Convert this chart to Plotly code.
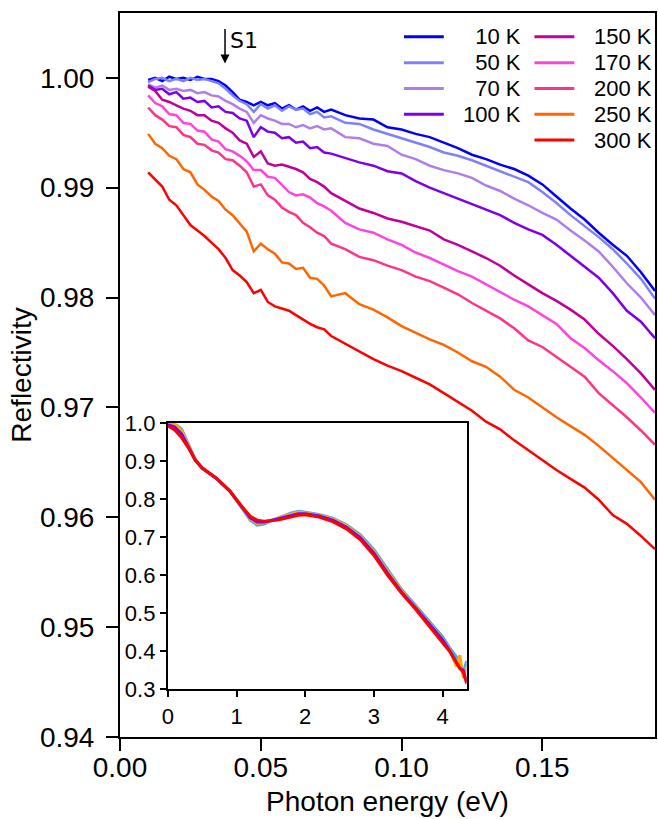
import plotly.graph_objects as go

# ---------------- data ----------------
energy = [0.0100, 0.0125, 0.0150, 0.0175, 0.0200, 0.0225, 0.0250, 0.0275, 0.0300, 0.0325,
          0.0350, 0.0375, 0.0400, 0.0425, 0.0450, 0.0475, 0.0500, 0.0525, 0.0550, 0.0575,
          0.0600, 0.0625, 0.0650, 0.0675, 0.0700, 0.0725, 0.0750,
          0.080, 0.085, 0.090, 0.095, 0.100, 0.105, 0.110, 0.115, 0.120, 0.125, 0.130,
          0.135, 0.140, 0.145, 0.150, 0.155, 0.160, 0.165, 0.170, 0.175, 0.180, 0.185, 0.190]

R_10K = [0.9998, 1.0000, 0.9997, 1.0001, 0.9999, 1.0000, 0.9998, 1.0001, 0.9999, 0.9999,
         0.9997, 0.9993, 0.9987, 0.9980, 0.9978, 0.9975, 0.9978, 0.9975, 0.9977, 0.9972,
         0.9975, 0.9971, 0.9974, 0.9970, 0.9973, 0.9969, 0.9971,
         0.9966, 0.9963, 0.9962, 0.9955, 0.9953, 0.9949, 0.9946, 0.9941, 0.9936, 0.9930, 0.9926,
         0.9921, 0.9917, 0.9911, 0.9903, 0.9892, 0.9881, 0.9871, 0.9859, 0.9848, 0.9838, 0.9823, 0.9806]
R_50K = [0.9996, 0.9999, 1.0000, 0.9997, 0.9999, 0.9997, 1.0000, 0.9998, 0.9999, 0.9997,
         0.9995, 0.9990, 0.9984, 0.9979, 0.9976, 0.9969, 0.9976, 0.9972, 0.9975, 0.9970,
         0.9974, 0.9971, 0.9972, 0.9967, 0.9969, 0.9964, 0.9965,
         0.9959, 0.9958, 0.9953, 0.9949, 0.9945, 0.9941, 0.9937, 0.9932, 0.9929, 0.9925, 0.9920,
         0.9915, 0.9910, 0.9905, 0.9896, 0.9886, 0.9875, 0.9865, 0.9855, 0.9844, 0.9831, 0.9817, 0.9799]
R_70K = [0.9994, 0.9991, 0.9993, 0.9989, 0.9990, 0.9988, 0.9989, 0.9986, 0.9987, 0.9984,
         0.9983, 0.9979, 0.9976, 0.9972, 0.9969, 0.9959, 0.9966, 0.9963, 0.9961, 0.9958,
         0.9958, 0.9955, 0.9957, 0.9954, 0.9956, 0.9953, 0.9954,
         0.9946, 0.9945, 0.9940, 0.9938, 0.9930, 0.9926, 0.9920, 0.9916, 0.9913, 0.9909, 0.9902,
         0.9897, 0.9890, 0.9884, 0.9877, 0.9871, 0.9861, 0.9852, 0.9842, 0.9828, 0.9813, 0.9800, 0.9784]
R_100K = [0.9993, 0.9989, 0.9990, 0.9985, 0.9987, 0.9981, 0.9982, 0.9978, 0.9979, 0.9973,
          0.9974, 0.9969, 0.9968, 0.9963, 0.9961, 0.9946, 0.9955, 0.9951, 0.9950, 0.9945,
          0.9946, 0.9941, 0.9942, 0.9936, 0.9937, 0.9932, 0.9931,
          0.9927, 0.9923, 0.9920, 0.9915, 0.9913, 0.9906, 0.9900, 0.9895, 0.9890, 0.9885, 0.9880,
          0.9875, 0.9868, 0.9862, 0.9857, 0.9848, 0.9838, 0.9828, 0.9818, 0.9804, 0.9788, 0.9778, 0.9763]
R_150K = [0.9992, 0.9988, 0.9980, 0.9978, 0.9975, 0.9972, 0.9970, 0.9966, 0.9966, 0.9961,
          0.9959, 0.9954, 0.9950, 0.9943, 0.9940, 0.9928, 0.9933, 0.9922, 0.9920, 0.9921,
          0.9919, 0.9917, 0.9914, 0.9908, 0.9905, 0.9901, 0.9895,
          0.9888, 0.9881, 0.9877, 0.9872, 0.9869, 0.9865, 0.9861, 0.9853, 0.9848, 0.9842, 0.9836,
          0.9829, 0.9820, 0.9812, 0.9804, 0.9797, 0.9789, 0.9780, 0.9767, 0.9756, 0.9744, 0.9731, 0.9716]
R_170K = [0.9984, 0.9977, 0.9974, 0.9967, 0.9966, 0.9959, 0.9958, 0.9952, 0.9951, 0.9944,
          0.9942, 0.9935, 0.9933, 0.9929, 0.9924, 0.9916, 0.9916, 0.9910, 0.9909, 0.9902,
          0.9896, 0.9893, 0.9894, 0.9891, 0.9886, 0.9883, 0.9879,
          0.9868, 0.9862, 0.9859, 0.9853, 0.9848, 0.9841, 0.9836, 0.9830, 0.9824, 0.9819, 0.9812,
          0.9805, 0.9798, 0.9792, 0.9784, 0.9776, 0.9763, 0.9754, 0.9743, 0.9733, 0.9722, 0.9709, 0.9695]
R_200K = [0.9973, 0.9966, 0.9962, 0.9956, 0.9955, 0.9948, 0.9946, 0.9940, 0.9939, 0.9934,
          0.9932, 0.9926, 0.9925, 0.9920, 0.9914, 0.9901, 0.9903, 0.9893, 0.9889, 0.9882,
          0.9878, 0.9875, 0.9868, 0.9864, 0.9859, 0.9856, 0.9849,
          0.9844, 0.9837, 0.9834, 0.9829, 0.9825, 0.9819, 0.9815, 0.9809, 0.9803, 0.9795, 0.9788,
          0.9781, 0.9772, 0.9761, 0.9755, 0.9746, 0.9737, 0.9728, 0.9713, 0.9702, 0.9691, 0.9679, 0.9666]
R_250K = [0.9949, 0.9940, 0.9936, 0.9929, 0.9926, 0.9917, 0.9914, 0.9903, 0.9898, 0.9892,
          0.9888, 0.9880, 0.9875, 0.9867, 0.9860, 0.9842, 0.9849, 0.9844, 0.9840, 0.9832,
          0.9831, 0.9826, 0.9827, 0.9818, 0.9817, 0.9811, 0.9801,
          0.9804, 0.9794, 0.9789, 0.9782, 0.9774, 0.9768, 0.9762, 0.9757, 0.9750, 0.9742, 0.9737,
          0.9728, 0.9716, 0.9709, 0.9700, 0.9691, 0.9683, 0.9675, 0.9665, 0.9654, 0.9643, 0.9632, 0.9616]
R_300K = [0.9914, 0.9907, 0.9901, 0.9889, 0.9884, 0.9875, 0.9866, 0.9861, 0.9856, 0.9850,
          0.9844, 0.9836, 0.9825, 0.9820, 0.9814, 0.9804, 0.9807, 0.9796, 0.9792, 0.9790,
          0.9788, 0.9784, 0.9780, 0.9776, 0.9773, 0.9771, 0.9765,
          0.9758, 0.9751, 0.9744, 0.9738, 0.9733, 0.9727, 0.9721, 0.9713, 0.9705, 0.9697, 0.9687,
          0.9680, 0.9670, 0.9661, 0.9652, 0.9643, 0.9635, 0.9627, 0.9616, 0.9602, 0.9594, 0.9583, 0.9571]

temps = ["10 K", "50 K", "70 K", "100 K", "150 K", "170 K", "200 K", "250 K", "300 K"]
series = [R_10K, R_50K, R_70K, R_100K, R_150K, R_170K, R_200K, R_250K, R_300K]
colors = ["#0000ff", "#8080ff", "#b07ee8", "#7f00e6", "#c00099", "#ff44dd", "#ff3388", "#ff6600", "#ff0000"]

# inset (wide range)
inset_E = [0.0, 0.1, 0.2, 0.3, 0.4, 0.5, 0.7, 0.9, 1.1, 1.2, 1.3, 1.4, 1.6, 1.8, 1.9, 2.0,
           2.2, 2.4, 2.6, 2.8, 3.0, 3.2, 3.4, 3.6, 3.8, 4.0, 4.1, 4.2, 4.25, 4.3, 4.35]
inset_blue = [1.000, 0.998, 0.985, 0.945, 0.905, 0.882, 0.856, 0.822, 0.770, 0.745, 0.732, 0.735,
              0.750, 0.764, 0.768, 0.766, 0.760, 0.750, 0.733, 0.707, 0.667, 0.614, 0.563, 0.522,
              0.480, 0.438, 0.410, 0.385, 0.362, 0.345, 0.375]
inset_orange = [0.999, 0.997, 0.980, 0.942, 0.904, 0.882, 0.856, 0.822, 0.772, 0.748, 0.736, 0.738,
                0.750, 0.762, 0.766, 0.764, 0.758, 0.748, 0.730, 0.703, 0.663, 0.610, 0.560, 0.518,
                0.476, 0.432, 0.405, 0.360, 0.390, 0.330, 0.360]
inset_purple = [0.996, 0.990, 0.972, 0.938, 0.903, 0.882, 0.856, 0.822, 0.774, 0.751, 0.740, 0.740,
                0.748, 0.758, 0.762, 0.762, 0.756, 0.745, 0.726, 0.699, 0.658, 0.605, 0.556, 0.515,
                0.472, 0.430, 0.402, 0.370, 0.355, 0.350, 0.320]
inset_red = [0.993, 0.982, 0.962, 0.935, 0.902, 0.882, 0.856, 0.822, 0.776, 0.755, 0.745, 0.742,
             0.745, 0.754, 0.758, 0.759, 0.753, 0.741, 0.722, 0.694, 0.652, 0.600, 0.553, 0.512,
             0.468, 0.425, 0.400, 0.370, 0.355, 0.345, 0.315]
inset_series = [inset_blue, inset_orange, inset_purple, inset_red]
inset_colors = ["#33aaff", "#ffaa00", "#7f00ff", "#ff0000"]

# ---------------- figure ----------------
W, H = 658, 819
ML, MR, MT, MB = 120, 1, 8, 82
PW, PH = W - ML - MR, H - MT - MB


def px(xp):
    return (xp - ML) / PW


def py(yp):
    return (H - MB - yp) / PH


fig = go.Figure()
for name, vals, col in zip(temps, series, colors):
    fig.add_trace(go.Scatter(x=energy, y=vals, mode="lines", name=name,
                             line=dict(color=col, width=2.5), showlegend=False))

for vals, col in zip(inset_series, inset_colors):
    fig.add_trace(go.Scatter(x=inset_E, y=vals, mode="lines", xaxis="x2", yaxis="y2",
                             line=dict(color=col, width=3), showlegend=False))

font_main = "Liberation Sans, Arial, sans-serif"

axis_common = dict(showline=True, linecolor="black", linewidth=2, mirror=True,
                   ticks="outside", tickcolor="black", tickwidth=1.5, showgrid=False,
                   zeroline=False)

fig.update_layout(
    width=W, height=H,
    margin=dict(l=ML, r=MR, t=MT, b=MB),
    paper_bgcolor="white", plot_bgcolor="white",
    font=dict(family=font_main, color="black"),
    xaxis=dict(range=[0, 0.19], dtick=0.05, tickformat=".2f", ticklen=12, ticklabelstandoff=-8,
               tickfont=dict(size=28), title=dict(text="Photon energy (eV)", font=dict(size=28), standoff=10),
               **axis_common),
    yaxis=dict(range=[0.94, 1.0059], dtick=0.01, tickformat=".2f", ticklen=12, ticklabelstandoff=6,
               tickfont=dict(size=28), title=dict(text="Reflectivity", font=dict(size=28), standoff=0),
               **axis_common),
    xaxis2=dict(domain=[px(168), px(468)], anchor="y2", range=[0, 4.35], dtick=1, ticklen=6,
                tickfont=dict(size=22), **axis_common),
    yaxis2=dict(domain=[py(689), py(421)], anchor="x2", range=[0.3, 1.0], dtick=0.1, tickformat=".1f",
                ticklen=6, tickfont=dict(size=22), **axis_common),
)

# legend (two columns, drawn in paper space)
col1_rows = [32, 58, 84, 110]
col2_rows = [32, 58, 84, 110, 136]
labels1 = ["\u200710 K", "\u200750 K", "\u200770 K", "100 K"]
LEG_FONT = 22
for i, yrow in enumerate(col1_rows):
    fig.add_shape(type="line", xref="paper", yref="paper", x0=px(405), x1=px(445),
                  y0=py(yrow), y1=py(yrow), line=dict(color=colors[i], width=3))
    fig.add_annotation(xref="paper", yref="paper", x=px(524), y=py(yrow), text=labels1[i],
                       showarrow=False, xanchor="right", yanchor="middle", borderpad=0,
                       font=dict(size=LEG_FONT, family=font_main, color="black"))
for j, yrow in enumerate(col2_rows):
    k = 4 + j
    fig.add_shape(type="line", xref="paper", yref="paper", x0=px(536), x1=px(576),
                  y0=py(yrow), y1=py(yrow), line=dict(color=colors[k], width=3))
    fig.add_annotation(xref="paper", yref="paper", x=px(655), y=py(yrow), text=temps[k],
                       showarrow=False, xanchor="right", yanchor="middle", borderpad=0,
                       font=dict(size=LEG_FONT, family=font_main, color="black"))

# S1 marker
fig.add_annotation(x=0.0373, y=1.0013, xref="x", yref="y", text="", showarrow=True,
                   ax=0, ay=-36, arrowhead=2, arrowsize=1.2, arrowwidth=1.5, arrowcolor="black")
fig.add_annotation(x=0.0385, y=1.0034, xref="x", yref="y", text="S1", showarrow=False,
                   xanchor="left", yanchor="middle",
                   font=dict(size=22, family="DejaVu Sans", color="black"))

fig.write_html("out.html", config={"displayModeBar": False},
               post_script="document.body.style.margin='0';document.body.style.padding='0';")
